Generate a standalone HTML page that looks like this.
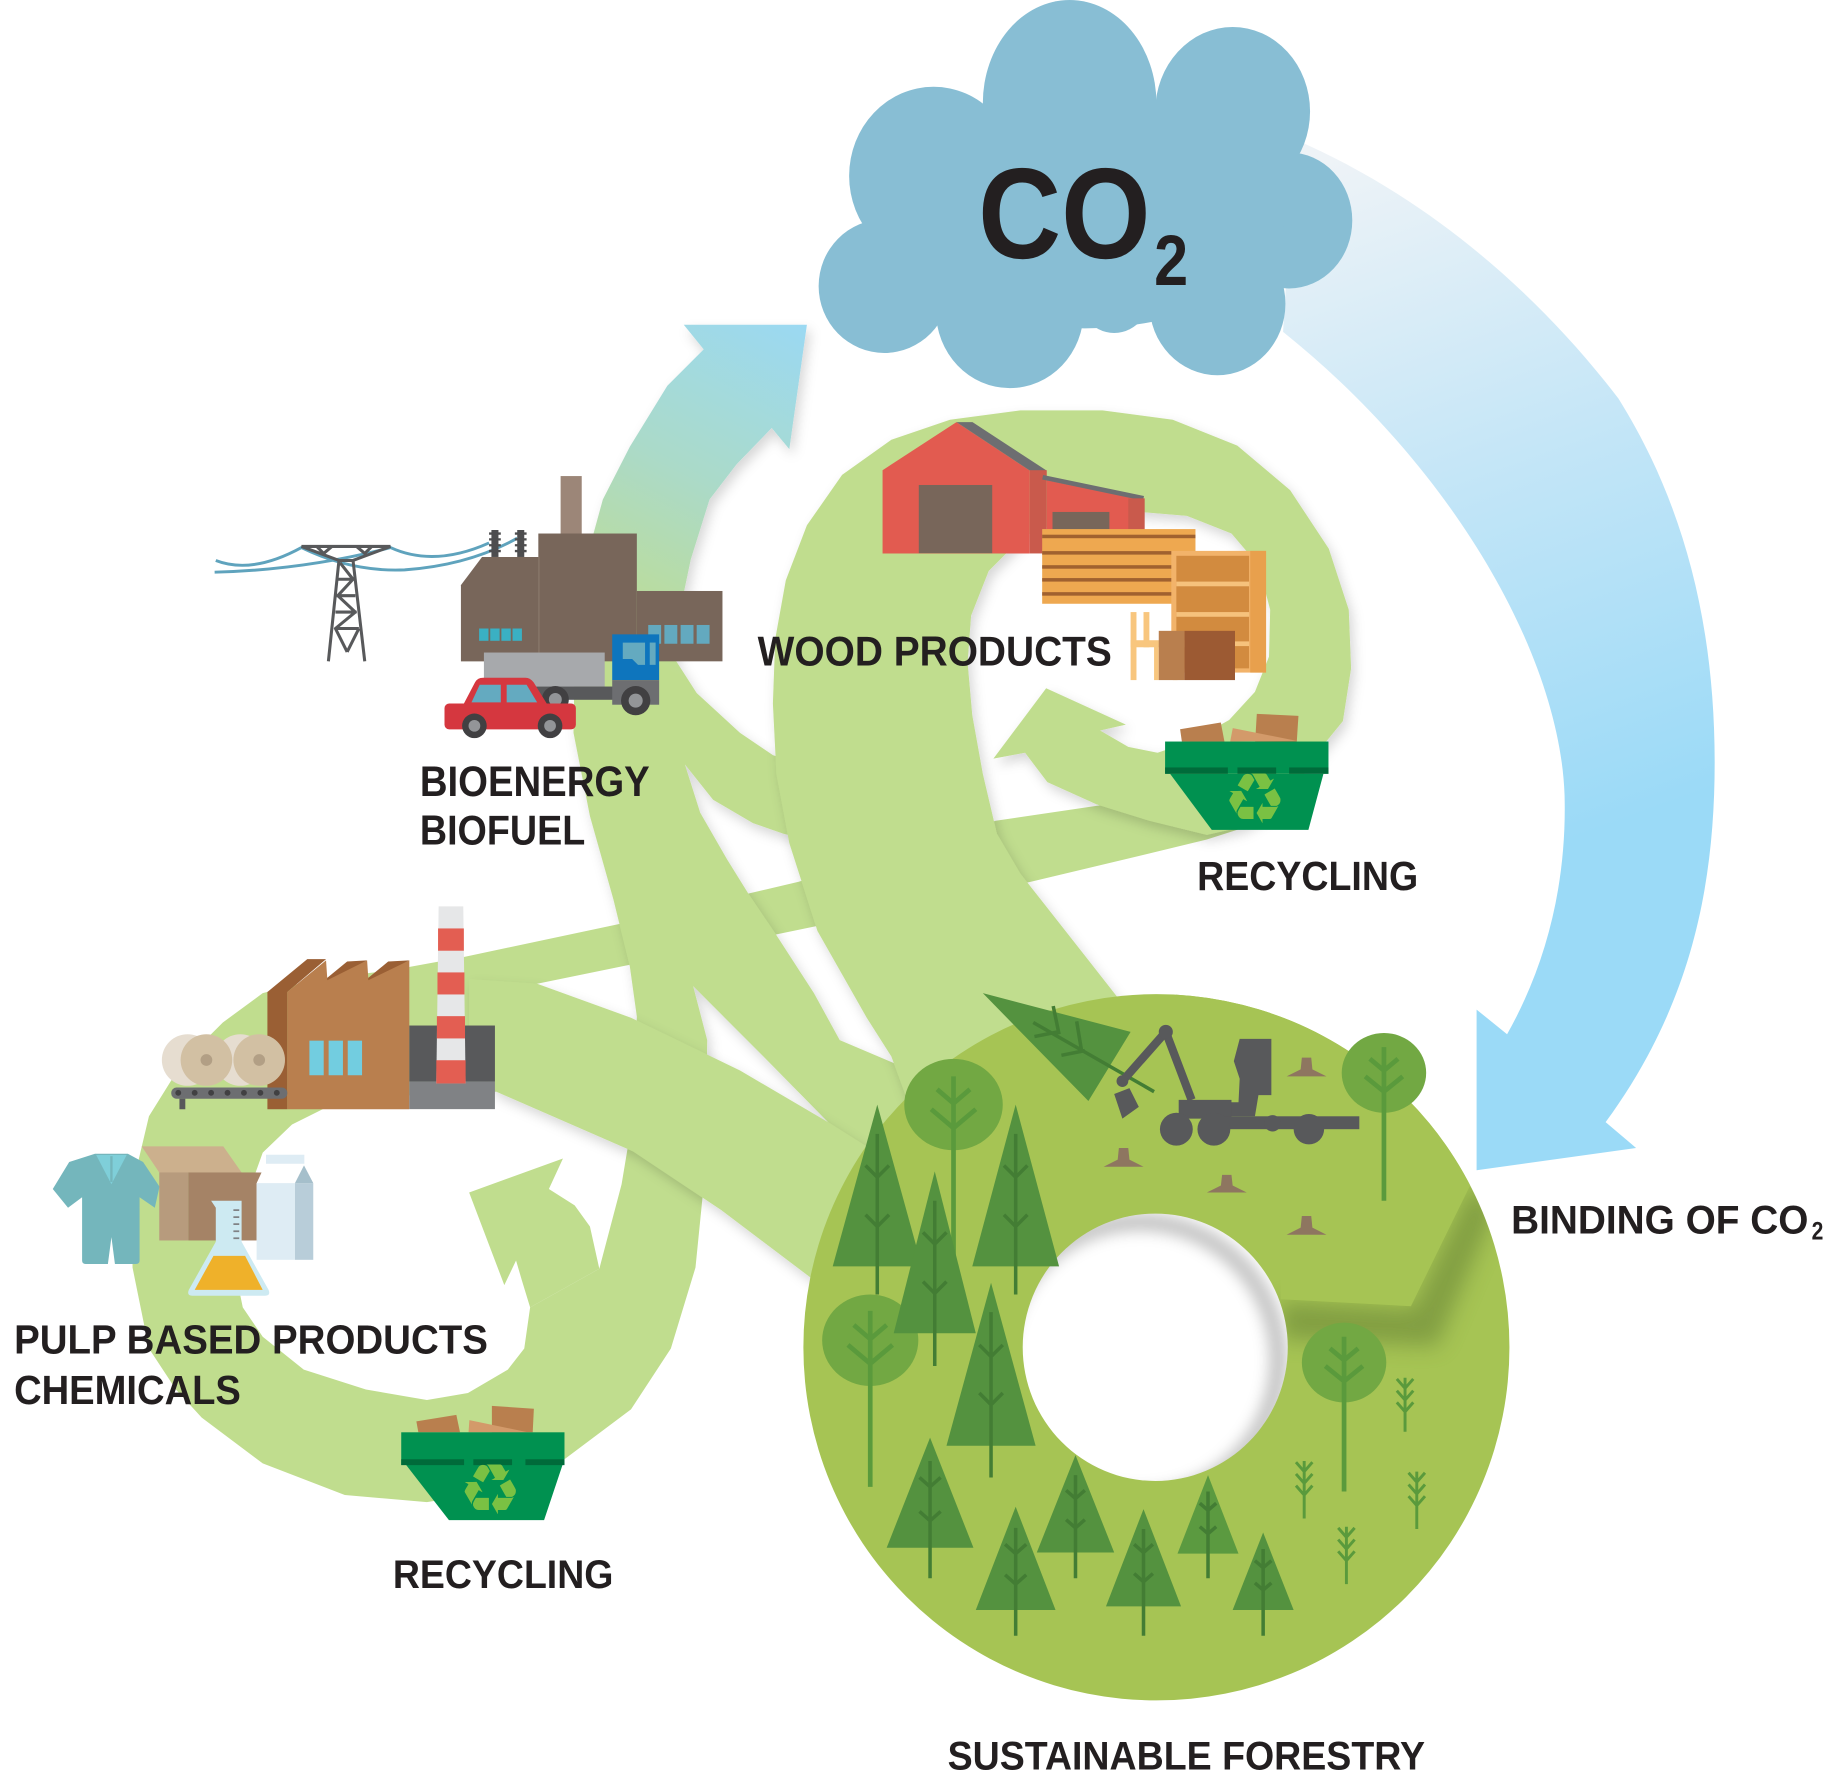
<!DOCTYPE html>
<html><head><meta charset="utf-8"><style>
html,body{margin:0;padding:0;background:#fff;}
svg{display:block;}
.t{font-family:"Liberation Sans",Arial,sans-serif;font-weight:bold;fill:#231f20;}
</style></head><body>
<svg width="1839" height="1787" viewBox="0 0 1568 1524" preserveAspectRatio="none" xmlns="http://www.w3.org/2000/svg">
<defs>
 <linearGradient id="gBlue" gradientUnits="userSpaceOnUse" x1="1120" y1="140" x2="1330" y2="720">
  <stop offset="0" stop-color="#eef3f7"/><stop offset="0.5" stop-color="#c2e5f7"/><stop offset="1" stop-color="#9bdaf7"/>
 </linearGradient>
 <linearGradient id="gTrunk" gradientUnits="userSpaceOnUse" x1="545" y1="560" x2="690" y2="280">
  <stop offset="0" stop-color="#c0dd8e"/><stop offset="0.5" stop-color="#abdac8"/><stop offset="1" stop-color="#9bd9f2"/>
 </linearGradient>
 <filter id="sh" x="-20%" y="-20%" width="140%" height="140%"><feDropShadow dx="3" dy="5" stdDeviation="5" flood-color="#000" flood-opacity="0.16"/></filter>
 <filter id="bl" x="-30%" y="-30%" width="160%" height="160%"><feGaussianBlur stdDeviation="6"/></filter>
 <filter id="bl2" x="-30%" y="-30%" width="160%" height="160%"><feGaussianBlur stdDeviation="9"/></filter>
 <clipPath id="donutClip"><path clip-rule="evenodd" d="M685,1149 a301,301 0 1,0 602,0 a301,301 0 1,0 -602,0Z M872,1149 a113,114 0 1,0 226,0 a113,114 0 1,0 -226,0Z"/></clipPath>
 <clipPath id="holeClip"><ellipse cx="985" cy="1149" rx="113" ry="114"/></clipPath>
</defs>

<!-- Blue arrow -->
<path fill="url(#gBlue)" d="M1104,119 C1200,160 1300,235 1380,340 C1430,420 1462,520 1462,650 C1462,760 1440,860 1369,957 L1395,979 L1259,998 L1259,861 L1285,882 C1320,820 1336,750 1334,678 C1330,560 1240,400 1094,283 Z"/>

<!-- Cloud -->
<g fill="#88bed4">
<ellipse cx="912" cy="88" rx="74" ry="88"/>
<ellipse cx="1051" cy="95" rx="66" ry="72"/>
<ellipse cx="796" cy="150" rx="72" ry="76"/>
<ellipse cx="1099" cy="188" rx="54" ry="58"/>
<ellipse cx="754" cy="244" rx="56" ry="57"/>
<ellipse cx="861" cy="265" rx="63" ry="66"/>
<ellipse cx="950" cy="240" rx="35" ry="44"/>
<ellipse cx="1038" cy="259" rx="58" ry="61"/>
<ellipse cx="925" cy="185" rx="170" ry="95"/>
</g>
<text class="t" x="834" y="220" font-size="110" textLength="147" lengthAdjust="spacingAndGlyphs">CO</text>
<text class="t" x="984" y="243" font-size="61" textLength="29" lengthAdjust="spacingAndGlyphs">2</text>

<!-- W->P narrow band -->
<path fill="#c0dd8e" d="M1110,640 L1040,668 L937,687 L849,700 L681,752 L528,788 L396,816 L320,830 L320,878 L458,839 L536,823 L695,790 L879,752 L967,731 L1029,716 L1110,690 Z"/>

<!-- Pulp loop -->
<path fill="#c0dd8e" d="M330,828 L270,835 L224,847 L190,872 L155,907 L127,952 L113,1011 L113,1081 L127,1150 L150,1185 L172,1209 L224,1248 L294,1275 L364,1281 L420,1272 L482,1244 L538,1202 L572,1150 L593,1081 L600,1011 L600,950 L540,950 L530,1010 L511,1082 L452,1115 L447,1150 L433,1168 L399,1188 L364,1194 L312,1185 L259,1168 L224,1140 L207,1115 L200,1081 L204,1039 L224,983 L249,959 L277,945 L350,934 L423,931 L430,880 L400,830 Z"/>
<path fill="#c0dd8e" d="M400,1017 L480,988 L468,1014 L490,1028 L503,1046 L511,1082 L452,1115 L445,1092 L440,1075 L430,1096 Z"/>

<!-- Bioenergy trunk -->
<path fill="url(#gTrunk)" filter="url(#sh)" d="M688,277 L673,383 L658,365 L628,396 L605,426 L589,477 L580,520 L576,563 L594,591 L631,625 L659,644 L705,660 L705,720 L668,711 L642,702 L608,682 L584,652 L597,693 L620,733 L638,762 L661,796 L694,847 L716,887 L770,910 L800,980 L740,1000 L706,957 L650,900 L591,841 L603,887 L602,950 L540,950 L543,867 L537,824 L523,767 L503,696 L489,625 L490,560 L500,477 L514,426 L537,381 L569,329 L600,298 L583,277 Z"/>

<!-- Wood loop -->
<path fill="#c0dd8e" filter="url(#sh)" d="M800,1010 L760,901 L739,868 L697,794 L673,719 L662,660 L659,600 L661,545 L670,495 L688,448 L718,405 L760,375 L810,358 L870,350 L940,350 L1000,358 L1055,380 L1100,418 L1133,468 L1150,520 L1152,570 L1145,615 L1123,642 L1100,680 L1060,705 L1029,712 L980,700 L935,686 L893,667 L874,642 L847,647 L892,587 L960,618 L938,623 L962,637 L987,642 L1016,632 L1048,614 L1070,590 L1082,560 L1083,520 L1073,482 L1050,455 L1012,440 L965,436 L915,440 L872,458 L843,487 L828,525 L825,565 L829,610 L838,660 L850,711 L870,745 L892,773 L925,815 L954,852 L990,900 L1000,1010 Z"/>

<!-- D2 band -->
<path fill="#c0dd8e" filter="url(#sh)" d="M400,835 L458,839 L538,868 L631,913 L706,957 L790,1010 L770,1140 L693,1091 L615,1032 L540,982 L423,931 L400,900 Z"/>

<!-- Forest donut -->
<path fill="#a6c454" fill-rule="evenodd" d="M685,1149 a301,301 0 1,0 602,0 a301,301 0 1,0 -602,0Z M872,1149 a113,114 0 1,0 226,0 a113,114 0 1,0 -226,0Z"/>
<g clip-path="url(#donutClip)">
 <path d="M1092,1110 L1205,1116 L1256,1010 L1275,1030 L1225,1148 L1092,1142 Z" fill="#5f7a30" opacity="0.5" filter="url(#bl2)"/>
 <path d="M1092,1108 L1203,1114 L1254,1010 L1320,860 L980,800 L1092,1040 Z" fill="#a6c454"/>
</g>
<g clip-path="url(#holeClip)">
 <ellipse cx="972" cy="1160" rx="118" ry="118" fill="none" stroke="#000" stroke-opacity="0.22" stroke-width="16" filter="url(#bl)"/>
</g>

<!-- Round trees -->
<g>
 <ellipse cx="813" cy="942" rx="42" ry="39" fill="#72a843"/>
 <path d="M813,918 V1111 M799,929 L813,941 L827,929 M794,946 L813,962 L832,946" stroke="#5a9a3c" stroke-width="4" fill="none"/>
 <ellipse cx="742" cy="1143" rx="41" ry="39" fill="#72a843"/>
 <path d="M742,1118 V1268 M728,1130 L742,1142 L756,1130 M723,1147 L742,1163 L761,1147" stroke="#5a9a3c" stroke-width="4" fill="none"/>
 <ellipse cx="1180" cy="915" rx="36" ry="34" fill="#72a843"/>
 <path d="M1180,893 V1024 M1168,903 L1180,913 L1192,903 M1164,918 L1180,931 L1196,918" stroke="#5a9a3c" stroke-width="4" fill="none"/>
 <ellipse cx="1146" cy="1162" rx="36" ry="34" fill="#72a843"/>
 <path d="M1146,1140 V1272 M1134,1150 L1146,1160 L1158,1150 M1130,1165 L1146,1178 L1162,1165" stroke="#5a9a3c" stroke-width="4" fill="none"/>
</g>

<!-- Conifers -->
<g fill="#54923f">
 <polygon points="748,942 710,1080 786,1080"/>
 <polygon points="866,942 829,1080 903,1080"/>
 <polygon points="797,999 762,1137 832,1137"/>
 <polygon points="845,1094 807,1233 883,1233"/>
 <polygon points="793,1226 756,1320 830,1320"/>
 <polygon points="866,1285 832,1373 900,1373"/>
 <polygon points="917,1241 884,1324 950,1324"/>
 <polygon points="975,1287 943,1370 1007,1370"/>
 <polygon points="1030,1258 1004,1325 1056,1325" fill="#5b9a40"/>
 <polygon points="1077,1307 1051,1373 1103,1373"/>
</g>
<g stroke="#437d34" stroke-width="3" fill="none">
 <path d="M748,967 V1104 M738,994 L748,1004 L758,994 M738,1036 L748,1046 L758,1036"/>
 <path d="M866,967 V1104 M856,994 L866,1004 L876,994 M856,1036 L866,1046 L876,1036"/>
 <path d="M797,1024 V1165 M787,1051 L797,1061 L807,1051 M787,1093 L797,1103 L807,1093"/>
 <path d="M845,1119 V1260 M835,1147 L845,1157 L855,1147 M835,1188 L845,1198 L855,1188"/>
 <path d="M793,1246 V1346 M784,1260 L793,1268 L802,1260 M784,1289 L793,1297 L802,1289"/>
 <path d="M866,1303 V1395 M857,1317 L866,1325 L875,1317 M857,1343 L866,1351 L875,1343"/>
 <path d="M917,1258 V1346 M909,1271 L917,1278 L925,1271 M909,1296 L917,1303 L925,1296"/>
 <path d="M975,1304 V1395 M967,1317 L975,1324 L983,1317 M967,1342 L975,1349 L983,1342"/>
 <path d="M1030,1272 V1346 M1023,1282 L1030,1288 L1037,1282 M1023,1302 L1030,1308 L1037,1302"/>
 <path d="M1077,1321 V1395 M1070,1331 L1077,1337 L1084,1331 M1070,1350 L1077,1356 L1084,1350"/>
</g>

<!-- Ferns -->
<g stroke="#5a9a3c" stroke-width="2.5" fill="none">
 <path d="M1198,1175 V1221 M1191,1176 L1198,1184 L1205,1176 M1191,1186 L1198,1194 L1205,1186 M1191,1196 L1198,1204 L1205,1196"/>
 <path d="M1112,1246 V1295 M1105,1247 L1112,1255 L1119,1247 M1105,1257 L1112,1265 L1119,1257 M1105,1267 L1112,1275 L1119,1267"/>
 <path d="M1208,1255 V1304 M1201,1256 L1208,1264 L1215,1256 M1201,1266 L1208,1274 L1215,1266 M1201,1276 L1208,1284 L1215,1276"/>
 <path d="M1148,1302 V1351 M1141,1303 L1148,1311 L1155,1303 M1141,1313 L1148,1321 L1155,1313 M1141,1323 L1148,1331 L1155,1323"/>
</g>

<!-- Stumps -->
<g fill="#8e7660">
 <polygon points="1110,902 1118,902 1119,912 1131,918 1097,918 1109,912"/>
 <polygon points="954,979 962,979 963,989 975,995 941,995 953,989"/>
 <polygon points="1042,1002 1050,1002 1051,1011 1063,1017 1029,1017 1041,1011"/>
 <polygon points="1110,1037 1118,1037 1119,1047 1131,1053 1097,1053 1109,1047"/>
</g>

<!-- Falling tree & harvester -->
<polygon points="838,847 964,880 928,939" fill="#54923f"/>
<path d="M881,872 L984,931 M898,858 L903,882 M918,871 L922,895 M882,884 L902,880 M905,900 L925,896" stroke="#437d34" stroke-width="3" fill="none"/>
<g fill="#58595b" stroke="#58595b">
 <path d="M1016,938 L994,880 L957,922" stroke-width="7" fill="none" stroke-linejoin="round"/>
 <circle cx="994" cy="880" r="6" stroke="none"/>
 <circle cx="957" cy="922" r="5" stroke="none"/>
 <polygon points="950,933 963,928 971,944 957,954" stroke="none"/>
 <polygon points="1057,886 1084,886 1084,934 1073,934 1070,952 1040,952 1040,940 1056,940 1057,920 1052,905" stroke="none"/>
 <rect x="1005" y="938" width="45" height="16" stroke="none"/>
 <rect x="1036" y="952" width="123" height="11" stroke="none"/>
 <circle cx="1003" cy="963" r="14" stroke="none"/>
 <circle cx="1035" cy="963" r="14" stroke="none"/>
 <circle cx="1085" cy="958" r="7" stroke="none"/>
 <circle cx="1116" cy="963" r="13" stroke="none"/>
</g>

<!-- Bioenergy icons -->
<g stroke="#5fa3bd" stroke-width="2.5" fill="none">
 <path d="M184,478 Q215,490 257,467 Q300,488 345,486 Q400,482 441,459"/>
 <path d="M183,488 Q260,486 333,467 Q370,484 417,463"/>
</g>
<g stroke="#58595b" stroke-width="2.6" fill="none" stroke-linejoin="round">
 <path d="M257,466 L333,466 M257,466 L289,478 L301,478 L333,466 M270,466 L276,472 L283,466 M317,466 L311,472 L304,466"/>
 <path d="M289,478 L280,564 M301,478 L311,564"/>
 <path d="M290,480 L301,494 L288,508 L303,522 L286,536 L306,536 M288,494 L302,494 M287,508 L303,508 M286,522 L304,522 M286,536 L296,556 M306,536 L296,556"/>
</g>
<rect x="478" y="406" width="18" height="50" fill="#9c8678"/>
<g fill="#4d4d4f">
 <rect x="419" y="452" width="6" height="23"/><rect x="441" y="452" width="6" height="23"/>
 <path d="M417,455 h10 M417,460 h10 M417,465 h10 M417,470 h10 M439,455 h10 M439,460 h10 M439,465 h10 M439,470 h10" stroke="#4d4d4f" stroke-width="2"/>
</g>
<polygon points="393,499 411,475 460,475 460,564 393,564" fill="#78665a"/>
<rect x="459" y="455" width="84" height="109" fill="#78665a"/>
<rect x="543" y="504" width="73" height="60" fill="#78665a"/>
<line x1="459.5" y1="475" x2="459.5" y2="564" stroke="#8b7a6c" stroke-width="1"/>
<g fill="#3ab0c3"><rect x="408.5" y="536" width="8" height="10.5"/><rect x="418" y="536" width="8" height="10.5"/><rect x="427.5" y="536" width="8" height="10.5"/><rect x="437" y="536" width="8" height="10.5"/></g>
<g fill="#63a9bf"><rect x="552.7" y="533" width="11" height="16"/><rect x="566.5" y="533" width="11" height="16"/><rect x="580.3" y="533" width="11" height="16"/><rect x="594" y="533" width="11" height="16"/></g>
<!-- truck -->
<rect x="412.6" y="556.5" width="103" height="29" fill="#a7a9ac"/>
<rect x="453.7" y="585.5" width="100.5" height="11.3" fill="#58595b"/>
<rect x="522" y="541" width="40" height="39" fill="#0e75bd"/>
<rect x="522" y="580" width="40" height="21" fill="#6d6e71"/>
<polygon points="531,548 550,548 550,567 544,567 539,562 531,562" fill="#64aac0"/>
<rect x="554" y="548" width="5" height="19" fill="#64aac0"/>
<circle cx="473.5" cy="596.5" r="11.5" fill="#414042"/><circle cx="473.5" cy="596.5" r="5.5" fill="#939598"/>
<circle cx="542" cy="597.5" r="12.5" fill="#414042"/><circle cx="542" cy="597.5" r="6" fill="#939598"/>
<!-- car -->
<path d="M394,603 L405,582 Q407,578 412,578 L448,578 Q452,578 455,582 L468,603 Z" fill="#d5373f"/>
<rect x="379" y="600" width="112" height="22" rx="4" fill="#d5373f"/>
<polygon points="402,599 409,584 427,584 427,599" fill="#64aac0"/>
<polygon points="432,584 449,584 458,599 432,599" fill="#64aac0"/>
<circle cx="404.5" cy="619" r="10.5" fill="#414042"/><circle cx="404.5" cy="619" r="5" fill="#939598"/>
<circle cx="469" cy="619" r="10.5" fill="#414042"/><circle cx="469" cy="619" r="5" fill="#939598"/>

<!-- Wood products icons -->
<polygon points="752.5,401 815.5,360 878,401.3 878,472 752.5,472" fill="#e25b50"/>
<polygon points="815.5,360 829.2,360 892.3,401.3 878,401.3" fill="#6d6e71"/>
<rect x="878" y="401" width="14.5" height="71" fill="#c95a4c"/>
<rect x="783.4" y="413.6" width="62.6" height="58.2" fill="#78665a"/>
<polygon points="892.5,409.6 975.7,426.8 975.7,471.8 892.5,471.8" fill="#e25b50"/>
<line x1="889" y1="407" x2="975" y2="425" stroke="#6d6e71" stroke-width="4"/>
<rect x="962" y="425" width="14" height="47" fill="#c95a4c"/>
<rect x="897.4" y="436.6" width="48.5" height="35.2" fill="#78665a"/>
<rect x="888.6" y="451.2" width="130.7" height="63.7" fill="#eea850"/>
<g fill="#a0612f"><rect x="888.6" y="456" width="130.7" height="3"/><rect x="888.6" y="470" width="130.7" height="3"/><rect x="888.6" y="482" width="130.7" height="3"/><rect x="888.6" y="493" width="130.7" height="3"/><rect x="888.6" y="505" width="130.7" height="3"/></g>
<rect x="998.7" y="469.8" width="80.8" height="103.8" fill="#f2b36a"/>
<rect x="1003" y="474" width="62" height="96" fill="#d28b3f"/>
<g fill="#f6c27c"><rect x="1003" y="496" width="62" height="4"/><rect x="1003" y="522" width="62" height="4"/><rect x="1003" y="547" width="62" height="4"/></g>
<rect x="1066" y="469.8" width="13.5" height="103.8" fill="#e8a04d"/>
<g fill="#f8c67e"><rect x="964" y="522" width="5" height="58"/><rect x="975" y="522" width="5" height="30"/><rect x="964" y="546" width="47" height="6"/><rect x="1000" y="551" width="4" height="29"/><rect x="984" y="551" width="4" height="29"/></g>
<rect x="988" y="538" width="22" height="42" fill="#b97f4e"/>
<rect x="1010" y="538" width="43" height="42" fill="#9c5a33"/>

<!-- Right recycling bin -->
<polygon points="1071.6,608.8 1107.1,610.5 1105.7,632.4 1070.2,632.4" fill="#b97f4e"/>
<polygon points="1006.2,621.9 1040.9,616.2 1044,632.4 1007.7,632.4" fill="#b97f4e"/>
<polygon points="1051.1,621 1105.7,631.8 1048.9,632.4" fill="#d39a6a"/>
<rect x="993.4" y="632.4" width="139.3" height="27.5" fill="#009150"/>
<polygon points="997.7,660 1128.4,660 1115.6,707.7 1033.2,707.7" fill="#009150"/>
<g fill="#006b3a"><rect x="993.4" y="654.5" width="53.5" height="5.4"/><rect x="1055.1" y="654.5" width="33" height="5.4"/><rect x="1099.2" y="654.5" width="33.5" height="5.4"/></g>
<text x="1070" y="702" font-size="60" text-anchor="middle" fill="#7ac143" font-family="DejaVu Sans, sans-serif">♻</text>

<!-- Pulp icons -->
<polygon points="228,846 262,818 278,818 245,846 245,946 228,946" fill="#9a5f34"/>
<polygon points="245,846 278,819 279,834 313,819 314,834 349,819 349,946 245,946" fill="#b97f4e"/>
<g fill="#9a5f34"><polygon points="279,834 296,820 313,819 279,836"/><polygon points="314,834 331,820 349,819 314,836"/></g>
<g fill="#72cde0"><rect x="263.8" y="887.5" width="12.2" height="29.5"/><rect x="280.2" y="887.5" width="12.2" height="29.5"/><rect x="296.5" y="887.5" width="12.2" height="29.5"/></g>
<rect x="349" y="874.6" width="73" height="47.7" fill="#58595b"/>
<rect x="349" y="922.3" width="73" height="23.6" fill="#808285"/>
<polygon points="374,773 395,773 397,924 372,924" fill="#e6e7e8"/>
<g fill="#e35e52"><rect x="373.5" y="791.8" width="22" height="19"/><rect x="373" y="829.3" width="23" height="18.8"/><rect x="372.5" y="866.6" width="24" height="19"/><rect x="372" y="904.2" width="25" height="19.8"/></g>
<circle cx="205" cy="904" r="22" fill="#e6ddd0"/>
<circle cx="160" cy="904" r="22" fill="#e6ddd0"/>
<circle cx="176" cy="904" r="22" fill="#d2c0a3"/><circle cx="176" cy="904" r="5" fill="#b29f85"/>
<circle cx="221" cy="904" r="22" fill="#d2c0a3"/><circle cx="221" cy="904" r="5" fill="#b29f85"/>
<rect x="146" y="927.5" width="99" height="9.5" rx="4.5" fill="#6d6e71"/>
<g fill="#414042"><circle cx="152" cy="932" r="2.5"/><circle cx="166" cy="932" r="2.5"/><circle cx="180" cy="932" r="2.5"/><circle cx="194" cy="932" r="2.5"/><circle cx="208" cy="932" r="2.5"/><circle cx="222" cy="932" r="2.5"/><circle cx="236" cy="932" r="2.5"/></g>
<rect x="153" y="937" width="5" height="9" fill="#58595b"/>
<!-- shirt -->
<path d="M81,984 L109,984 L122,991 L136,1012 L132,1030 L119,1021 L119,1075 Q119,1078 116,1078 L98,1078 L95,1055 L92,1078 L73,1078 Q70,1078 70,1075 L70,1021 L58,1030 L45,1014 L59,991 Z" fill="#74b6bc"/>
<polygon points="82,985 95,1010 108,985" fill="#7fcfd9"/>
<line x1="95" y1="986" x2="95" y2="1008" stroke="#74b6bc" stroke-width="2"/>
<!-- box -->
<polygon points="120.8,977.7 190.4,977.7 206,999.9 135.8,999.9" fill="#ccb08d"/>
<rect x="135.8" y="999.9" width="24.8" height="58" fill="#b79b7d"/>
<rect x="160.6" y="999.9" width="58.2" height="58" fill="#a58366"/>
<polygon points="206,999.9 223,999.9 218.8,1009" fill="#a58366"/>
<!-- milk -->
<rect x="226.8" y="984.8" width="32.7" height="7.7" fill="#deecf4"/>
<rect x="218.8" y="1009" width="32.7" height="65.4" fill="#deecf4"/>
<rect x="251.5" y="1009" width="15.6" height="65.4" fill="#b8cdd9"/>
<polygon points="251.5,1009 259.2,993.9 267.1,1009" fill="#a5bfcb"/>
<!-- flask -->
<path d="M180,1024 L206,1024 L206,1059 L229,1100 Q231,1105 226,1105 L164,1105 Q159,1105 161,1100 L184,1059 L184,1030 Z" fill="#cdeaf2"/>
<path d="M182,1071 L209,1071 L224,1100 L166,1100 Z" fill="#efb12a"/>
<path d="M199,1032 h5 M199,1038 h5 M199,1044 h5 M199,1050 h5 M199,1056 h5" stroke="#808285" stroke-width="1.5"/>

<!-- Bottom recycling bin -->
<polygon points="419.4,1199 455.2,1201.4 454.2,1221.5 419.4,1221.5" fill="#b97f4e"/>
<polygon points="355,1212.2 389.1,1206.6 392.2,1221.5 356.7,1221.5" fill="#b97f4e"/>
<polygon points="400.2,1211.1 450,1221.5 399.5,1221.5" fill="#d39a6a"/>
<rect x="342.1" y="1221.5" width="139.2" height="27.9" fill="#009150"/>
<polygon points="346.3,1249.4 479.6,1249.4 463.9,1296.4 382.8,1296.4" fill="#009150"/>
<g fill="#006b3a"><rect x="342.1" y="1244.5" width="53.6" height="5"/><rect x="403.6" y="1244.5" width="33" height="5"/><rect x="448" y="1244.5" width="33.3" height="5"/></g>
<text x="418" y="1291" font-size="60" text-anchor="middle" fill="#7ac143" font-family="DejaVu Sans, sans-serif">♻</text>

<!-- Labels -->
<text class="t" x="646" y="567.7" font-size="35.5" textLength="302" lengthAdjust="spacingAndGlyphs">WOOD PRODUCTS</text>
<text class="t" x="358" y="678.8" font-size="36" textLength="196" lengthAdjust="spacingAndGlyphs">BIOENERGY</text>
<text class="t" x="358" y="720.1" font-size="35.5" textLength="141" lengthAdjust="spacingAndGlyphs">BIOFUEL</text>
<text class="t" x="1020.7" y="759.1" font-size="34.5" textLength="188.5" lengthAdjust="spacingAndGlyphs">RECYCLING</text>
<text class="t" x="12" y="1154.4" font-size="34.5" textLength="404" lengthAdjust="spacingAndGlyphs">PULP BASED PRODUCTS</text>
<text class="t" x="12" y="1197.2" font-size="35" textLength="193.4" lengthAdjust="spacingAndGlyphs">CHEMICALS</text>
<text class="t" x="335" y="1354.4" font-size="34" textLength="188" lengthAdjust="spacingAndGlyphs">RECYCLING</text>
<text class="t" x="808" y="1509" font-size="34" textLength="407" lengthAdjust="spacingAndGlyphs">SUSTAINABLE FORESTRY</text>
<text class="t" x="1288.4" y="1052.1" font-size="33.6" textLength="253.5" lengthAdjust="spacingAndGlyphs">BINDING OF CO</text>
<text class="t" x="1544.7" y="1057" font-size="21" textLength="10" lengthAdjust="spacingAndGlyphs">2</text>
</svg>
</body></html>
